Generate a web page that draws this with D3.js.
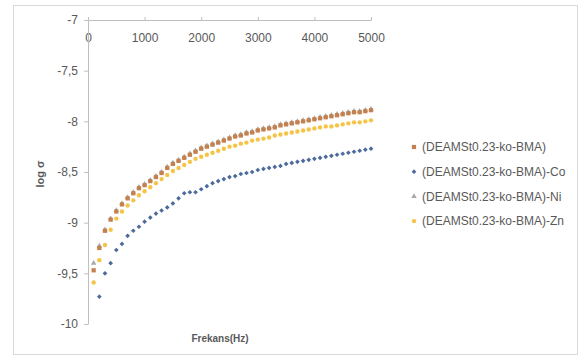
<!DOCTYPE html>
<html>
<head>
<meta charset="utf-8">
<script src="https://cdn.jsdelivr.net/npm/d3@7"></script>
<style>
  body { margin: 0; background: #fff; }
  text { font-family: "Liberation Sans", Arial, sans-serif; fill: #595959; }
</style>
</head>
<body>
<div id="chart"></div>
<script>
// frequency (Hz)
const freq = [100, 200, 300, 400, 500, 600, 700, 800, 900, 1000,
  1100, 1200, 1300, 1400, 1500, 1600, 1700, 1800, 1900, 2000,
  2100, 2200, 2300, 2400, 2500, 2600, 2700, 2800, 2900, 3000,
  3100, 3200, 3300, 3400, 3500, 3600, 3700, 3800, 3900, 4000,
  4100, 4200, 4300, 4400, 4500, 4600, 4700, 4800, 4900, 5000];

// log sigma values
const deamst = [-9.47, -9.25, -9.08, -8.97, -8.89, -8.82, -8.76, -8.71, -8.66, -8.63,
  -8.59, -8.55, -8.51, -8.46, -8.42, -8.39, -8.36, -8.33, -8.30, -8.27,
  -8.25, -8.23, -8.21, -8.19, -8.17, -8.15, -8.14, -8.12, -8.11, -8.09,
  -8.08, -8.07, -8.06, -8.04, -8.03, -8.02, -8.01, -8.00, -7.99, -7.98,
  -7.97, -7.96, -7.95, -7.94, -7.93, -7.92, -7.91, -7.91, -7.90, -7.89];
const co = [null, -9.73, -9.50, -9.40, -9.27, -9.21, -9.13, -9.08, -9.04, -8.99,
  -8.95, -8.91, -8.88, -8.85, -8.81, -8.76, -8.71, -8.70, -8.70, -8.67,
  -8.64, -8.61, -8.59, -8.57, -8.55, -8.54, -8.52, -8.51, -8.50, -8.48,
  -8.47, -8.46, -8.45, -8.44, -8.42, -8.41, -8.40, -8.39, -8.38, -8.37,
  -8.36, -8.35, -8.34, -8.33, -8.32, -8.31, -8.30, -8.29, -8.28, -8.27];
const ni = [-9.40, -9.23, -9.07, -8.96, -8.88, -8.81, -8.75, -8.70, -8.65, -8.62,
  -8.58, -8.54, -8.50, -8.45, -8.41, -8.38, -8.35, -8.32, -8.29, -8.26,
  -8.24, -8.22, -8.20, -8.18, -8.16, -8.14, -8.13, -8.11, -8.10, -8.08,
  -8.07, -8.06, -8.05, -8.03, -8.02, -8.01, -8.00, -7.99, -7.98, -7.97,
  -7.96, -7.95, -7.94, -7.93, -7.92, -7.91, -7.90, -7.90, -7.89, -7.88];
const zn = [-9.59, -9.37, -9.22, -9.07, -8.96, -8.89, -8.83, -8.78, -8.73, -8.69,
  -8.65, -8.61, -8.57, -8.53, -8.49, -8.46, -8.43, -8.40, -8.37, -8.35,
  -8.33, -8.31, -8.29, -8.27, -8.25, -8.24, -8.22, -8.21, -8.19, -8.18,
  -8.17, -8.16, -8.14, -8.13, -8.12, -8.11, -8.10, -8.09, -8.08, -8.07,
  -8.06, -8.05, -8.05, -8.04, -8.03, -8.02, -8.01, -8.01, -8.00, -7.99];

const seriesNames = ["(DEAMSt0.23-ko-BMA)", "(DEAMSt0.23-ko-BMA)-Co",
  "(DEAMSt0.23-ko-BMA)-Ni", "(DEAMSt0.23-ko-BMA)-Zn"];
const xTicks = [0, 1000, 2000, 3000, 4000, 5000];
const yTicks = [-7, -7.5, -8, -8.5, -9, -9.5, -10];

const width = 585, height = 360;
const margin = { top: 20, right: 214, bottom: 36, left: 88 };

const series = [
  { name: seriesNames[0], values: deamst, color: "#c4804f", symbol: d3.symbolSquare, size: 18 },
  { name: seriesNames[1], values: co, color: "#4c6b9c", symbol: d3.symbolDiamond2, size: 14 },
  { name: seriesNames[2], values: ni, color: "#a8a8a8", symbol: d3.symbolTriangle, size: 13 },
  { name: seriesNames[3], values: zn, color: "#f5c446", symbol: d3.symbolCircle, size: 15 }
];
// Ni sits under the parent series, so draw it first
const drawOrder = [2, 0, 1, 3];

const svg = d3.select("#chart").append("svg")
  .attr("width", width)
  .attr("height", height);

// chart border
svg.append("rect")
  .attr("x", 13.5).attr("y", 5.5)
  .attr("width", 564).attr("height", 349)
  .attr("fill", "#fff")
  .attr("stroke", "#d9d9d9");

const x = d3.scaleLinear()
  .domain([0, 5000])
  .range([margin.left, 371]);

const y = d3.scaleLinear()
  .domain([-10, -7])
  .range([324, margin.top]);

const fmt = d => String(d).replace(".", ",");

// x axis sits on top (at -7)
const xAxis = svg.append("g")
  .attr("transform", `translate(0,${y(-7)})`)
  .call(d3.axisTop(x).tickValues(xTicks).tickSize(3).tickSizeOuter(0).tickFormat(d => d));
xAxis.select(".domain").attr("stroke", "#bfbfbf");
xAxis.selectAll(".tick line").attr("stroke", "#bfbfbf");
xAxis.selectAll("text")
  .attr("y", 22)
  .attr("font-size", "12px")
  .attr("fill", "#595959");

const yAxis = svg.append("g")
  .attr("transform", `translate(${x(0)},0)`)
  .call(d3.axisLeft(y).tickValues(yTicks).tickSize(4).tickSizeOuter(0).tickFormat(fmt));
yAxis.select(".domain").attr("stroke", "#bfbfbf");
yAxis.selectAll(".tick line").attr("stroke", "#bfbfbf");
yAxis.selectAll("text")
  .attr("x", -10)
  .attr("font-size", "12px")
  .attr("fill", "#595959");
svg.selectAll(".tick text").style("font-family", "'Liberation Sans', Arial, sans-serif");

// points
drawOrder.forEach(k => {
  const s = series[k];
  const pts = freq.map((f, i) => ({ f: f, v: s.values[i] })).filter(d => d.v !== null);
  svg.append("g")
    .selectAll("path")
    .data(pts)
    .join("path")
      .attr("transform", d => `translate(${x(d.f)},${y(d.v)})`)
      .attr("d", d3.symbol().type(s.symbol).size(s.size))
      .attr("fill", s.color);
});

// axis titles
svg.append("text")
  .attr("transform", "translate(44,174) rotate(-90)")
  .attr("text-anchor", "middle")
  .attr("font-size", "11px")
  .attr("font-weight", "bold")
  .attr("fill", "#404040")
  .text("log σ");

svg.append("text")
  .attr("x", 220).attr("y", 342)
  .attr("text-anchor", "middle")
  .attr("font-size", "10px")
  .attr("font-weight", "bold")
  .attr("fill", "#404040")
  .text("Frekans(Hz)");

// legend
const legend = svg.append("g");
series.forEach((s, i) => {
  const ly = 147 + i * 24.7;
  legend.append("path")
    .attr("transform", `translate(414,${ly})`)
    .attr("d", d3.symbol().type(s.symbol).size(s.size))
    .attr("fill", s.color);
  legend.append("text")
    .attr("x", 422).attr("y", ly)
    .attr("dy", "0.35em")
    .attr("font-size", "12px")
    .attr("fill", "#595959")
    .text(s.name);
});
</script>
</body>
</html>
